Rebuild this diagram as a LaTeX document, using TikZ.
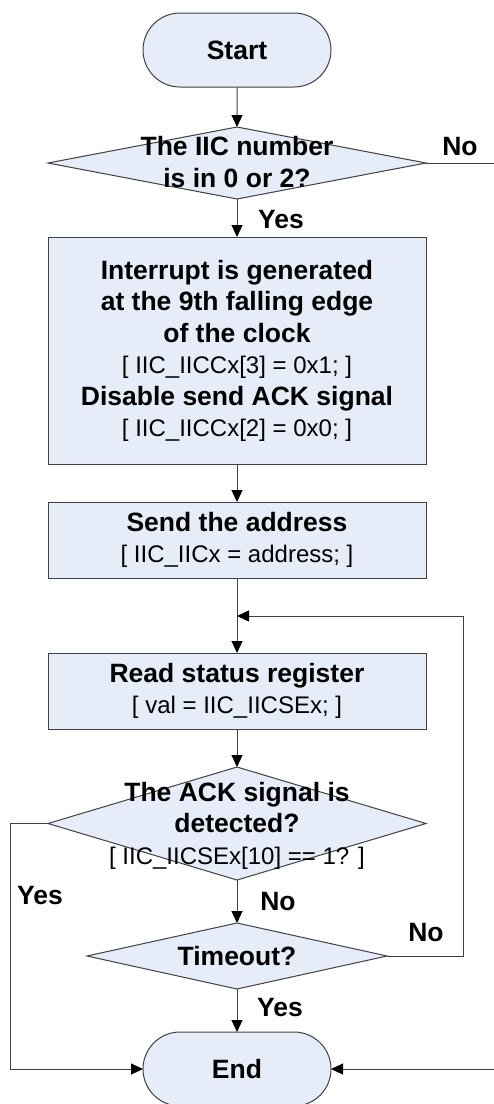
\documentclass[tikz,border=0pt]{standalone}
\usepackage{fontspec}
\setmainfont{Liberation Sans}
\usetikzlibrary{shapes.geometric,shapes.misc,arrows.meta}
\definecolor{boxfill}{RGB}{230,236,248}
\definecolor{linegray}{RGB}{64,64,64}
\newcommand\hdtxt{\fontsize{26.5}{31.5}\selectfont\bfseries}
\newcommand\cdtxt{\fontsize{24}{31.5}\selectfont\mdseries}

\begin{document}
\begin{tikzpicture}[x=1pt,y=-1pt,
  every node/.style={inner sep=0pt, outer sep=0pt},
  terminal/.style={rounded rectangle, draw=linegray, fill=boxfill, line width=1pt,
    minimum width=188pt, minimum height=74pt, font=\hdtxt},
  process/.style={rectangle, draw=linegray, fill=boxfill, line width=1pt,
    minimum width=378pt, align=center, font=\hdtxt},
  decision/.style={diamond, draw=linegray, fill=boxfill, line width=1pt},
  flow/.style={draw=linegray, line width=1pt},
  arr/.style={flow, -{Triangle[length=12pt,width=11pt,color=black]}},
  hd/.style={font=\hdtxt},
  lbl/.style={font=\hdtxt},
  dtext/.style={align=center, font=\hdtxt}
]
\useasboundingbox (0,0) rectangle (494,1104);

% shapes
\node[terminal] (start) at (237,50) {Start};
\node[decision, minimum width=378pt, minimum height=72pt] (d1) at (237,163) {};
\node[dtext] (d1t) at (237,162) {The IIC number\\is in 0 or 2?};

\node[process, minimum height=227pt, text depth=4pt] (b1) at (237,350.5)
  {Interrupt is generated\\
   at the 9th falling edge\\
   of the clock\\
   \cdtxt [ IIC\_IICCx[3] = 0x1; ]\\
   Disable send ACK signal\\
   \cdtxt [ IIC\_IICCx[2] = 0x0; ]};

\node[process, minimum height=76pt] (b2) at (237,540)
  {Send the address\\ \cdtxt [ IIC\_IICx = address; ]};

\node[process, minimum height=76pt] (b3) at (237,691)
  {Read status register\\ \cdtxt [ val = IIC\_IICSEx; ]};

\node[decision, minimum width=378pt, minimum height=113pt] (d2) at (237,823.5) {};
\node[dtext] (d2t) at (237,825.5)
  {The ACK signal is\\ detected?\\ \cdtxt [ IIC\_IICSEx[10] == 1? ]};

\node[decision, minimum width=300pt, minimum height=66pt] (d3) at (237,956) {};
\node[hd] (d3t) at (237,956) {Timeout?};

\node[terminal] (end) at (237,1069) {End};

% connectors
\coordinate (noout) at (494,163);
\coordinate (join) at (237,616);
\coordinate (loopr) at (463,956);
\coordinate (yesl) at (10,823.5);
\coordinate (rin) at (494,1069);

\draw[arr] (start) -- (d1);
\draw[flow] (d1.east) -- (noout);
\draw[arr] (d1) -- (b1);
\draw[arr] (b1) -- (b2);
\draw[arr] (b2) -- (b3);
\draw[arr] (b3) -- (d2);
\draw[arr] (d2) -- (d3);
\draw[arr] (d3) -- (end);
\draw[arr] (d3.east) -- (loopr) |- (join);
\draw[arr] (d2.west) -- (yesl) |- (end.west);
\draw[arr] (rin) -- (end.east);

% branch labels
\node[lbl] (lno1) at (460,147) {No};
\node[lbl] (lyes1) at (281,220) {Yes};
\node[lbl] (lyes2) at (40,896) {Yes};
\node[lbl] (lno2) at (278,902) {No};
\node[lbl] (lno3) at (426,933) {No};
\node[lbl] (lyes3) at (280,1007) {Yes};
\end{tikzpicture}
\end{document}
